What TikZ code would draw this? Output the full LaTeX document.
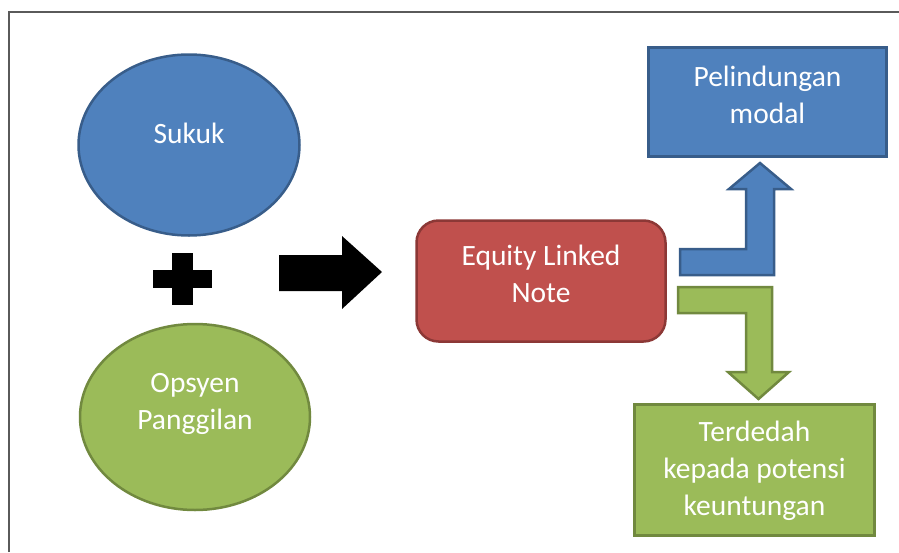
\documentclass[tikz,border=0pt]{standalone}
\usepackage{fontspec}
\setmainfont{Carlito}
\usetikzlibrary{shapes.geometric}
\definecolor{bfill}{HTML}{4F81BD}
\definecolor{bline}{HTML}{385D8A}
\definecolor{rfill}{HTML}{C0504D}
\definecolor{rline}{HTML}{8C3836}
\definecolor{gfill}{HTML}{9BBB59}
\definecolor{gline}{HTML}{71893F}
\definecolor{frame}{HTML}{5A5A5A}
\begin{document}
\begin{tikzpicture}[x=1pt,y=-1pt,
  ell/.style={ellipse, line width=2.5pt, inner sep=0pt},
  boxs/.style={rectangle, line width=2.5pt, inner sep=0pt},
  txt/.style={text=white, align=center, font=\fontsize{29.5}{37}\selectfont, inner sep=0pt},
  blk/.style={fill=black, draw=none}]
\useasboundingbox (0,0) rectangle (899,552);
\draw[frame, line width=1.5pt] (9,552) -- (9,12) -- (899,12);
% ellipses
\node[ell, fill=bfill, draw=bline, minimum width=221pt, minimum height=181pt] (sukuk) at (189,145) {};
\node[txt] (sukukT) at (189,133) {Sukuk};
\node[ell, fill=gfill, draw=gline, minimum width=230pt, minimum height=186pt] (opsyen) at (195,417) {};
\node[txt] (opsyenT) at (195,404) {Opsyen\\Panggilan};
% plus
\fill[blk] (153,270) rectangle (212,288);
\fill[blk] (172,253) rectangle (193,305);
% black arrow
\fill[blk] (279,255) -- (342,255) -- (342,236) -- (382,272) -- (342,309) -- (342,291) -- (279,291) -- cycle;
% red box
\node[boxs, rounded corners=22pt, fill=rfill, draw=rline, minimum width=249pt, minimum height=121pt] (eln) at (541,281) {};
\node[txt] (elnT) at (541,274) {Equity Linked\\Note};
% blue box
\node[boxs, fill=bfill, draw=bline, minimum width=238pt, minimum height=109pt] (pel) at (767.5,102) {};
\node[txt] (pelT) at (767.5,95) {Pelindungan\\modal};
% green box
\node[boxs, fill=gfill, draw=gline, minimum width=240pt, minimum height=131pt] (ter) at (754.5,470) {};
\node[txt] (terT) at (754.5,471) {Terdedah\\kepada potensi\\keuntungan};
% bent arrows
\filldraw[fill=bfill, draw=bline, line width=2.5pt, line join=miter]
  (680,249) -- (746,249) -- (746,189) -- (729,189) -- (760,163) -- (791,189) -- (774,189) -- (774,275) -- (680,275) -- cycle;
\filldraw[fill=gfill, draw=gline, line width=2.5pt, line join=miter]
  (678,287) -- (772,287) -- (772,372) -- (789,372) -- (758.5,399) -- (728,372) -- (746,372) -- (746,313) -- (678,313) -- cycle;
\end{tikzpicture}
\end{document}
